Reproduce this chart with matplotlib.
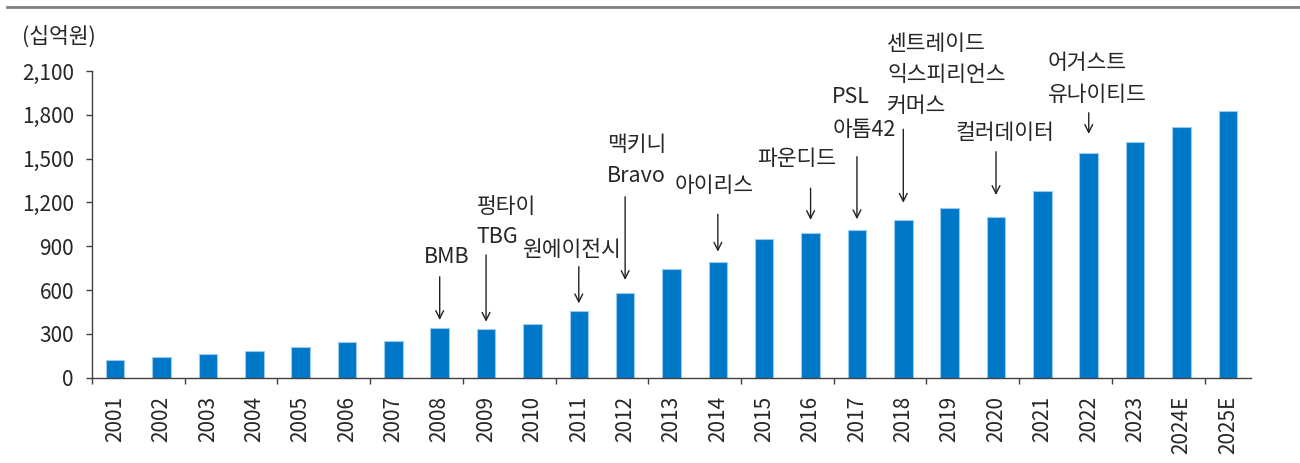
import matplotlib.pyplot as plt
from matplotlib.lines import Line2D

plt.rcParams["font.family"] = ["Noto Sans CJK KR", "DejaVu Sans"]

# data
years = ["2001", "2002", "2003", "2004", "2005", "2006", "2007", "2008", "2009",
         "2010", "2011", "2012", "2013", "2014", "2015", "2016", "2017", "2018",
         "2019", "2020", "2021", "2022", "2023", "2024E", "2025E"]
values = [119, 142, 160, 185, 212, 242, 253, 342, 333, 369, 458, 579, 744, 790,
          948, 993, 1009, 1080, 1162, 1100, 1278, 1536, 1614, 1714, 1826]

# acquisitions: year index, text lines, arrow start/end (data units)
ann_idx = [7, 8, 10, 11, 13, 15, 16, 17, 19, 21]
ann_lines = [["BMB"], ["펑타이", "TBG"], ["원에이전시"], ["맥키니", "Bravo"],
             ["아이리스"], ["파운디드"], ["PSL", "아톰42"],
             ["센트레이드", "익스피리언스", "커머스"], ["컬러데이터"],
             ["어거스트", "유나이티드"]]
ann_text_x = [7.16, 7.80, 9.85, 10.61, 12.92, 14.71, 15.47, 16.65, 19.2, 20.12]
ann_ha = ["center", "left", "center", "left", "center", "center", "left",
          "left", "center", "left"]
ann_text_y = [[826], [1168, 963], [874], [1593, 1380], [1313], [1497],
              [1922, 1696], [2288, 2073, 1860], [1675], [2155, 1936]]
arrow_from = [691, 840, 760, 1239, 1119, 1297, 1513, 1701, 1547, 1814]
arrow_to = [395, 383, 509, 669, 863, 1080, 1085, 1198, 1251, 1669]

TXT = "#262626"
AX = "#404040"
FS = 15

fig = plt.figure(figsize=(13, 4.63), dpi=100)
ax = fig.add_axes([92 / 1300, 85.3 / 463, (1251 - 92) / 1300, (377.7 - 71) / 463])

x = list(range(len(years)))
ax.bar(x, values, width=0.4, color="#0078C8", edgecolor="#9ACAEE", linewidth=0.8,
       zorder=2)

ax.set_xlim(-0.5, len(years) - 0.5)
ax.set_ylim(0, 2100)
ax.set_yticks(range(0, 2101, 300))
ax.set_yticklabels([f"{v:,}" for v in range(0, 2101, 300)])

# labels at bar centers, short ticks at every second boundary
ax.set_xticks(x)
ax.set_xticklabels(years, rotation=90)
ax.tick_params(axis="x", which="major", length=0, pad=13, labelsize=FS,
               labelcolor=TXT)
ax.set_xticks([b - 0.5 for b in range(0, len(years) + 1, 2)], minor=True)
ax.tick_params(axis="x", which="minor", length=4, width=1, color=AX,
               direction="out")
ax.tick_params(axis="y", length=4, width=1, color=AX, pad=9, labelsize=FS,
               labelcolor=TXT)

for s in ["top", "right"]:
    ax.spines[s].set_visible(False)
for s in ["left", "bottom"]:
    ax.spines[s].set_color(AX)
    ax.spines[s].set_linewidth(1)

for i, lines, tx, ha, tys, y0, y1 in zip(ann_idx, ann_lines, ann_text_x, ann_ha,
                                        ann_text_y, arrow_from, arrow_to):
    for line, ty in zip(lines, tys):
        ax.text(tx, ty, line, ha=ha, va="center", fontsize=15.5, color=TXT,
                clip_on=False)
    ax.annotate("", xy=(i, y1), xytext=(i, y0),
                arrowprops=dict(arrowstyle="->", color="#222222", lw=1,
                                mutation_scale=14, shrinkA=0, shrinkB=0))

fig.text(22 / 1300, 1 - 37 / 463, "(십억원)", ha="left", va="center",
         fontsize=15.5, color=TXT)

# grey rule across the top
fig.add_artist(Line2D([7 / 1300, 1.0], [1 - 7 / 463, 1 - 7 / 463],
                      color="#808080", lw=2, transform=fig.transFigure))

fig.savefig("out.png", dpi=100)
